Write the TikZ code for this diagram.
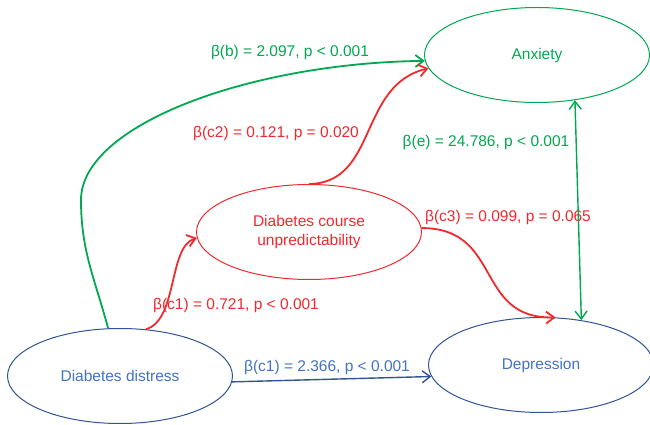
\documentclass[tikz,border=0pt]{standalone}
\usepackage{fontspec}
\setmainfont{Liberation Sans}
\usetikzlibrary{arrows.meta}
\usetikzlibrary{shapes.geometric}
\definecolor{sgreen}{HTML}{00A850}
\definecolor{sred}{HTML}{EE2A2E}
\definecolor{sblue}{HTML}{4472C4}
\definecolor{snavy}{HTML}{2F5597}

\begin{document}
\begin{tikzpicture}[x=1pt,y=1pt,>={Straight Barb[length=8pt,width=12pt]},
  every node/.style={font=\fontsize{15.5}{19}\selectfont},
  var/.style={ellipse,draw,line width=1pt,inner sep=0pt,align=center,minimum width=225pt,minimum height=95pt},
  link/.style={line width=1.8pt},
  thinlink/.style={line width=1.4pt}]

	\useasboundingbox (0,0) rectangle (650,425);

	\node[var,draw=sgreen,text=sgreen] (anx) at (537,370) {Anxiety};
	\node[var,draw=sred,text=sred]     (dcu) at (309,193) {Diabetes course\\unpredictability};
	\node[var,draw=snavy,text=sblue]   (dd)  at (120,49)  {Diabetes distress};
	\node[var,draw=snavy,text=sblue]   (dep) at (541,60)  {Depression};

	\node[text=sgreen] (lb)  at (290,373) {β(b) = 2.097, p < 0.001};
	\node[text=sred]   (lc2) at (276,292) {β(c2) = 0.121, p = 0.020};
	\node[text=sgreen] (le)  at (486,283) {β(e) = 24.786, p < 0.001};
	\node[text=sred]   (lc3) at (508,208) {β(c3) = 0.099, p = 0.065};
	\node[text=sred]   (lc1) at (236,120) {β(c1) = 0.721, p < 0.001};
	\node[text=sblue]  (ld)  at (327,58)  {β(c1) = 2.366, p < 0.001};

	\coordinate (bk) at (81,225);

	\draw[->,sgreen,link] (dd.104) to[out=105,in=-90] (bk) .. controls (81,300) and (250,362) .. (anx.183);
	\draw[->,sred,link] (dd.61) .. controls (178,105) and (168,178) .. (dcu.183);
	\draw[->,sred,link] (dcu.90) .. controls (378,242) and (358,340) .. (anx.187);
	\draw[->,sred,link] (dcu.2) .. controls (503,197) and (474,106) .. (dep.73);
	\draw[<->,sgreen,thinlink] (anx.-50) -- (dep.48);
	\draw[->,snavy,thinlink] (dd.-3) -- (dep.186);
\end{tikzpicture}
\end{document}
